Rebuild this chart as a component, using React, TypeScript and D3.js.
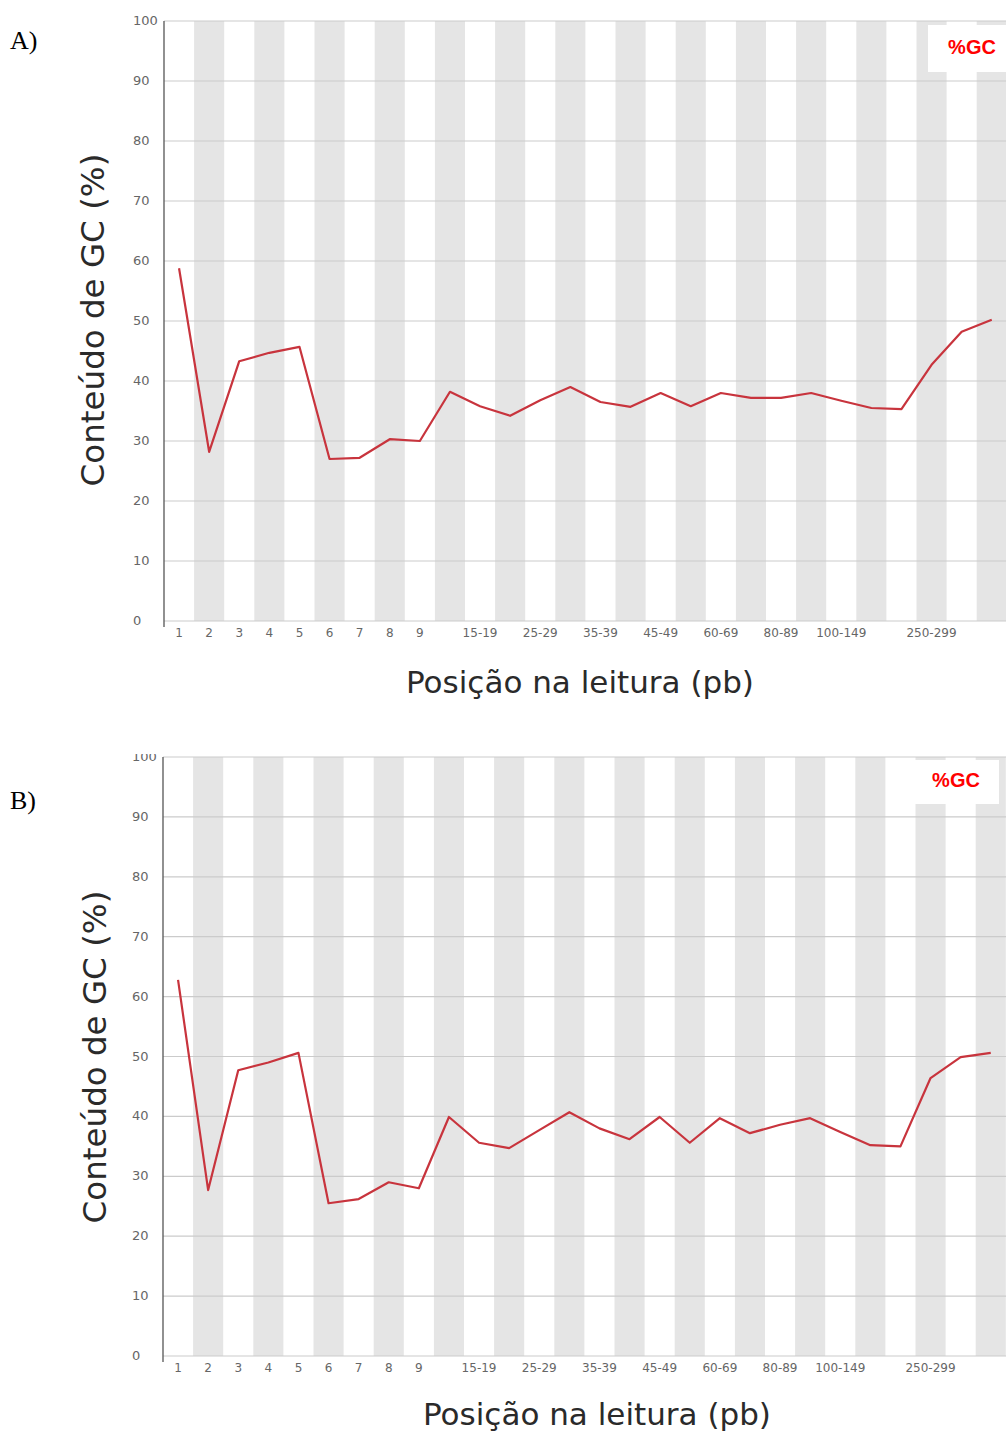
import * as d3 from "d3";
import React from "react";

// position groups on the x axis (FastQC style bins)
const categories = [
  "1", "2", "3", "4", "5", "6", "7", "8", "9",
  "10-14", "15-19", "20-24", "25-29", "30-34", "35-39", "40-44", "45-49",
  "50-59", "60-69", "70-79", "80-89", "90-99", "100-149", "150-199",
  "200-249", "250-299", "300-349", "350-399",
];

// labels that are actually printed under the axis
const shownLabels = [
  "1", "2", "3", "4", "5", "6", "7", "8", "9",
  "15-19", "25-29", "35-39", "45-49", "60-69", "80-89", "100-149", "250-299",
];

const yTicks = [0, 10, 20, 30, 40, 50, 60, 70, 80, 90, 100];

// %GC per position, panel A
const gcA = [
  58.8, 28.2, 43.3, 44.7, 45.7, 27.0, 27.2, 30.3, 30.0, 38.2,
  35.8, 34.2, 36.8, 39.0, 36.5, 35.7, 38.0, 35.8, 38.0, 37.2,
  37.2, 38.0, 36.7, 35.5, 35.3, 42.7, 48.2, 50.2,
];

// %GC per position, panel B
const gcB = [
  62.8, 27.7, 47.7, 49.0, 50.6, 25.5, 26.2, 29.0, 28.0, 39.9,
  35.6, 34.7, 37.7, 40.7, 38.0, 36.2, 39.9, 35.6, 39.7, 37.2,
  38.6, 39.7, 37.4, 35.2, 35.0, 46.4, 49.9, 50.6,
];

const W = 1006;
const H = 1434;
const binW = 30.1;

const axisFont = "'DejaVu Sans', Verdana, sans-serif";

type PanelProps = {
  tag: string;
  values: number[];
  left: number;
  top: number;
  bottom: number;
  clipTop: number;
  tagY: number;
  titleX: number;
  titleY: number;
  yTitleX: number;
  yTitleY: number;
  legend: { x: number; y: number; w: number; h: number; tx: number; ty: number };
  id: string;
};

const Panel = ({
  tag, values, left, top, bottom, clipTop, tagY, titleX, titleY,
  yTitleX, yTitleY, legend, id,
}: PanelProps) => {
  const xScale = d3
    .scaleBand<string>()
    .domain(categories)
    .range([left, left + categories.length * binW])
    .padding(0);
  const yScale = d3.scaleLinear().domain([0, 100]).range([bottom, top]);

  const line = d3
    .line<number>()
    .x((_, i) => (xScale(categories[i]) as number) + xScale.bandwidth() / 2)
    .y((d) => yScale(d));

  return (
    <g>
      <defs>
        <clipPath id={id}>
          <rect x={0} y={clipTop} width={W} height={H} />
        </clipPath>
      </defs>
      <text x={10} y={tagY} fontFamily="'Liberation Serif', 'Times New Roman', serif" fontSize={26} fill="#000">
        {tag}
      </text>
      <g clipPath={`url(#${id})`}>
        {/* alternating bands */}
        {categories.map((c, i) =>
          i % 2 === 1 ? (
            <rect
              key={c}
              x={xScale(c)}
              y={yScale(100)}
              width={xScale.bandwidth()}
              height={yScale(0) - yScale(100)}
              fill="#e5e5e5"
            />
          ) : null
        )}
        {/* horizontal grid */}
        {yTicks.map((t) => (
          <line
            key={t}
            x1={left}
            x2={W}
            y1={yScale(t)}
            y2={yScale(t)}
            stroke="#cbcbcb"
            strokeWidth={1.2}
          />
        ))}
        {/* y axis */}
        <line x1={left} x2={left} y1={yScale(100)} y2={yScale(0) + 6} stroke="#555" strokeWidth={1.3} />
        {yTicks.map((t) => (
          <text
            key={t}
            x={left - 31}
            y={yScale(t) + 4}
            fontFamily={axisFont}
            fontSize={13}
            fill="#666"
          >
            {t}
          </text>
        ))}
        {/* x labels */}
        {categories.map((c) =>
          shownLabels.includes(c) ? (
            <text
              key={c}
              x={(xScale(c) as number) + xScale.bandwidth() / 2}
              y={yScale(0) + 16}
              textAnchor="middle"
              fontFamily={axisFont}
              fontSize={12}
              fill="#666"
            >
              {c}
            </text>
          ) : null
        )}
        <path d={line(values) || ""} fill="none" stroke="#c8343d" strokeWidth={2.2} strokeLinejoin="round" />
        {/* legend */}
        <rect x={legend.x} y={legend.y} width={legend.w} height={legend.h} fill="#fff" />
        <text
          x={legend.tx}
          y={legend.ty}
          textAnchor="middle"
          fontFamily="'Liberation Sans', Arial, sans-serif"
          fontWeight="bold"
          fontSize={20}
          fill="#ff0000"
        >
          %GC
        </text>
      </g>
      <text
        x={titleX}
        y={titleY}
        textAnchor="middle"
        fontFamily={axisFont}
        fontSize={31}
        fill="#2a2a2a"
      >
        Posição na leitura (pb)
      </text>
      <text
        transform={`translate(${yTitleX}, ${yTitleY}) rotate(-90)`}
        textAnchor="middle"
        fontFamily={axisFont}
        fontSize={32.5}
        fill="#2a2a2a"
      >
        Conteúdo de GC (%)
      </text>
    </g>
  );
};

const App = () => {
  return (
    <svg
      width={W}
      height={H}
      style={{ position: "absolute", left: 0, top: 0, background: "#fff" }}
    >
      <rect width={W} height={H} fill="#fff" />
      <Panel
        id="clipA"
        tag="A)"
        values={gcA}
        left={164}
        top={21}
        bottom={621}
        clipTop={0}
        tagY={49}
        titleX={580}
        titleY={693}
        yTitleX={104}
        yTitleY={320}
        legend={{ x: 928, y: 25, w: 78, h: 47, tx: 972, ty: 54 }}
      />
      <Panel
        id="clipB"
        tag="B)"
        values={gcB}
        left={163}
        top={757}
        bottom={1356}
        clipTop={754}
        tagY={809}
        titleX={597}
        titleY={1425}
        yTitleX={106}
        yTitleY={1057}
        legend={{ x: 913, y: 760, w: 86, h: 44, tx: 956, ty: 787 }}
      />
    </svg>
  );
};

export default App;
